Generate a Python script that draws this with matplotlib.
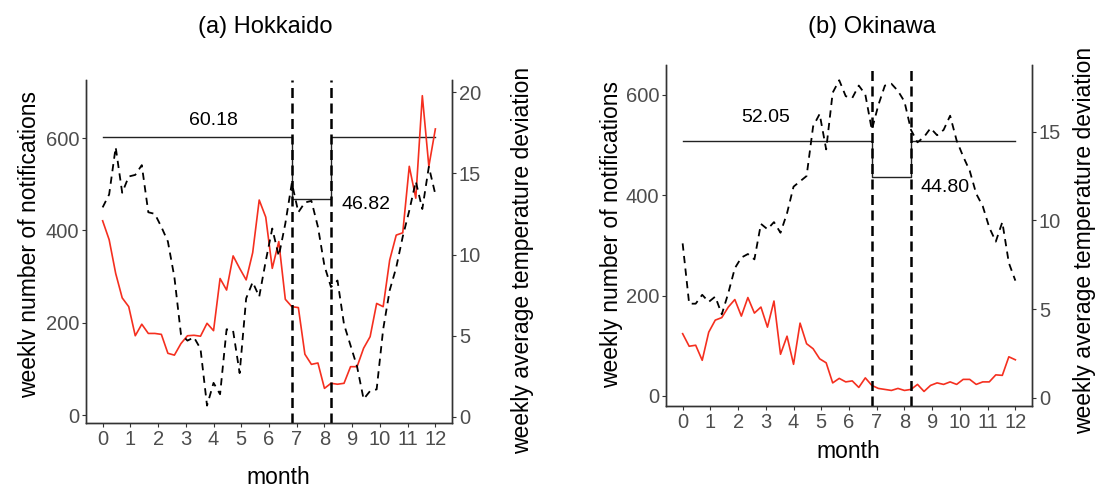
import numpy as np
import matplotlib
matplotlib.use("Agg")
import matplotlib.pyplot as plt

plt.rcParams["font.family"] = ["Liberation Sans", "DejaVu Sans"]

# weekly series, 52 weeks spread over months 0..12
weeks = np.arange(52)
month = weeks * 12 / 51

hok_notif = [421, 380, 307, 254, 235, 172, 197, 177, 177, 175, 134, 130, 155,
             172, 173, 171, 199, 183, 296, 271, 345, 318, 293, 352, 466, 429,
             318, 376, 251, 235, 233, 132, 110, 113, 58, 69, 67, 69, 105, 105,
             145, 170, 242, 235, 336, 390, 395, 539, 470, 692, 539, 620]
hok_temp = [12.9, 13.7, 16.6, 13.8, 14.8, 14.9, 15.5, 12.6, 12.5, 11.7, 10.8,
            8.6, 5.1, 4.7, 4.9, 4.2, 0.7, 2.1, 1.4, 5.4, 5.3, 2.7, 7.3, 8.3,
            7.4, 9.6, 11.6, 9.9, 11.9, 14.4, 12.6, 13.2, 13.3, 11.7, 9.3, 8.0,
            8.4, 5.7, 4.4, 3.1, 1.1, 1.6, 1.7, 5.4, 7.8, 9.2, 11.1, 12.7, 14.5,
            12.8, 15.4, 13.7]

oki_notif = [124, 99, 101, 71, 127, 151, 156, 177, 192, 159, 196, 165, 177,
             137, 189, 83, 119, 63, 145, 104, 94, 74, 66, 26, 35, 28, 30, 17,
             36, 21, 15, 13, 11, 15, 11, 13, 23, 9, 21, 26, 23, 28, 23, 33, 33,
             23, 28, 28, 42, 41, 78, 72]
oki_temp = [8.7, 5.3, 5.3, 5.8, 5.4, 5.7, 4.7, 5.9, 7.3, 7.9, 8.1, 7.8, 9.8,
            9.5, 9.9, 9.3, 10.4, 11.9, 12.2, 12.5, 15.3, 16.0, 14.0, 17.2,
            17.9, 17.0, 16.9, 17.6, 17.1, 15.1, 16.5, 17.6, 17.7, 17.3, 16.7,
            15.1, 14.4, 14.7, 15.2, 14.8, 15.1, 15.9, 14.5, 13.6, 12.8, 11.5,
            10.8, 9.6, 8.8, 9.9, 7.6, 6.6]

# period boundaries (week index) and mean levels outside / inside the period
period = (29, 35)
hok_means = (60.18, 46.82)
oki_means = (52.05, 44.80)

TICK_GREY = "#4d4d4d"
RED = "#f52f1f"


def draw_panel(fig, rect, notif, temp, means, scale, ylim, ylim2, yticks2,
               label_pos):
    ax = fig.add_axes(rect)
    ax.plot(month, notif, color=RED, lw=1.2, zorder=3)

    x1, x2 = month[period[0]], month[period[1]]
    hi, lo = means[0] * scale, means[1] * scale
    ax.plot([0, x1, x1, x2, x2, 12], [hi, hi, lo, lo, hi, hi],
            color="#222222", lw=1.0, zorder=2)
    for xv in (x1, x2):
        ax.axvline(xv, color="black", lw=1.8, ls=(0, (4, 2.2)), zorder=4)

    (tx1, ty1), (tx2, ty2) = label_pos
    ax.text(tx1, ty1, f"{means[0]:.2f}", ha="center", va="center", fontsize=14)
    ax.text(tx2, ty2, f"{means[1]:.2f}", ha="center", va="center", fontsize=14)

    ax.set_xlim(-0.6, 12.6)
    ax.set_ylim(*ylim)
    ax.set_xticks(range(13))
    ax.set_yticks([0, 200, 400, 600])

    ax2 = ax.twinx()
    ax2.plot(month, temp, color="black", lw=1.3, ls=(0, (4, 3)))
    ax2.set_ylim(*ylim2)
    ax2.set_yticks(yticks2)

    for a in (ax, ax2):
        a.spines["top"].set_visible(False)
        for s in ("left", "right", "bottom"):
            a.spines[s].set_color("#333333")
            a.spines[s].set_linewidth(1.0)
        a.tick_params(colors="#333333", labelcolor=TICK_GREY, length=3,
                      width=0.8, labelsize=14.5, pad=2)
    ax.patch.set_visible(False)
    return ax, ax2


fig = plt.figure(figsize=(10.95, 4.88), dpi=100)
W, H = 1095, 488


def rect(left, right, top, bottom):
    return [left / W, 1 - bottom / H, (right - left) / W, (bottom - top) / H]


draw_panel(fig, rect(86, 452, 80, 423), hok_notif, hok_temp, hok_means, 10.0,
           (-17, 726), (-0.37, 20.74), [0, 5, 10, 15, 20],
           ((4.0, 639), (9.5, 457)))
draw_panel(fig, rect(666, 1032, 65, 406), oki_notif, oki_temp, oki_means, 9.75,
           (-20, 659), (-0.47, 18.76), [0, 5, 10, 15],
           ((3.0, 554), (9.45, 416)))

# titles and axis labels
fig.text(265 / W, 1 - 27 / H, "(a) Hokkaido", ha="center", va="center", fontsize=17)
fig.text(872 / W, 1 - 27 / H, "(b) Okinawa", ha="center", va="center", fontsize=17)
fig.text(278 / W, 1 - 478 / H, "month", ha="center", va="center", fontsize=16.5)
fig.text(848 / W, 1 - 452 / H, "month", ha="center", va="center", fontsize=16.5)
fig.text(30 / W, 1 - 244 / H, "weeklv number of notifications", rotation=90,
         ha="center", va="center", fontsize=16.5)
fig.text(523 / W, 1 - 260 / H, "weekly average temperature deviation", rotation=90,
         ha="center", va="center", fontsize=16.5)
fig.text(612 / W, 1 - 234 / H, "weekly number of notifications", rotation=90,
         ha="center", va="center", fontsize=16.5)
fig.text(1085 / W, 1 - 240 / H, "weekly average temperature deviation", rotation=90,
         ha="center", va="center", fontsize=16.5)

fig.savefig("out.png", dpi=100, facecolor="white")
